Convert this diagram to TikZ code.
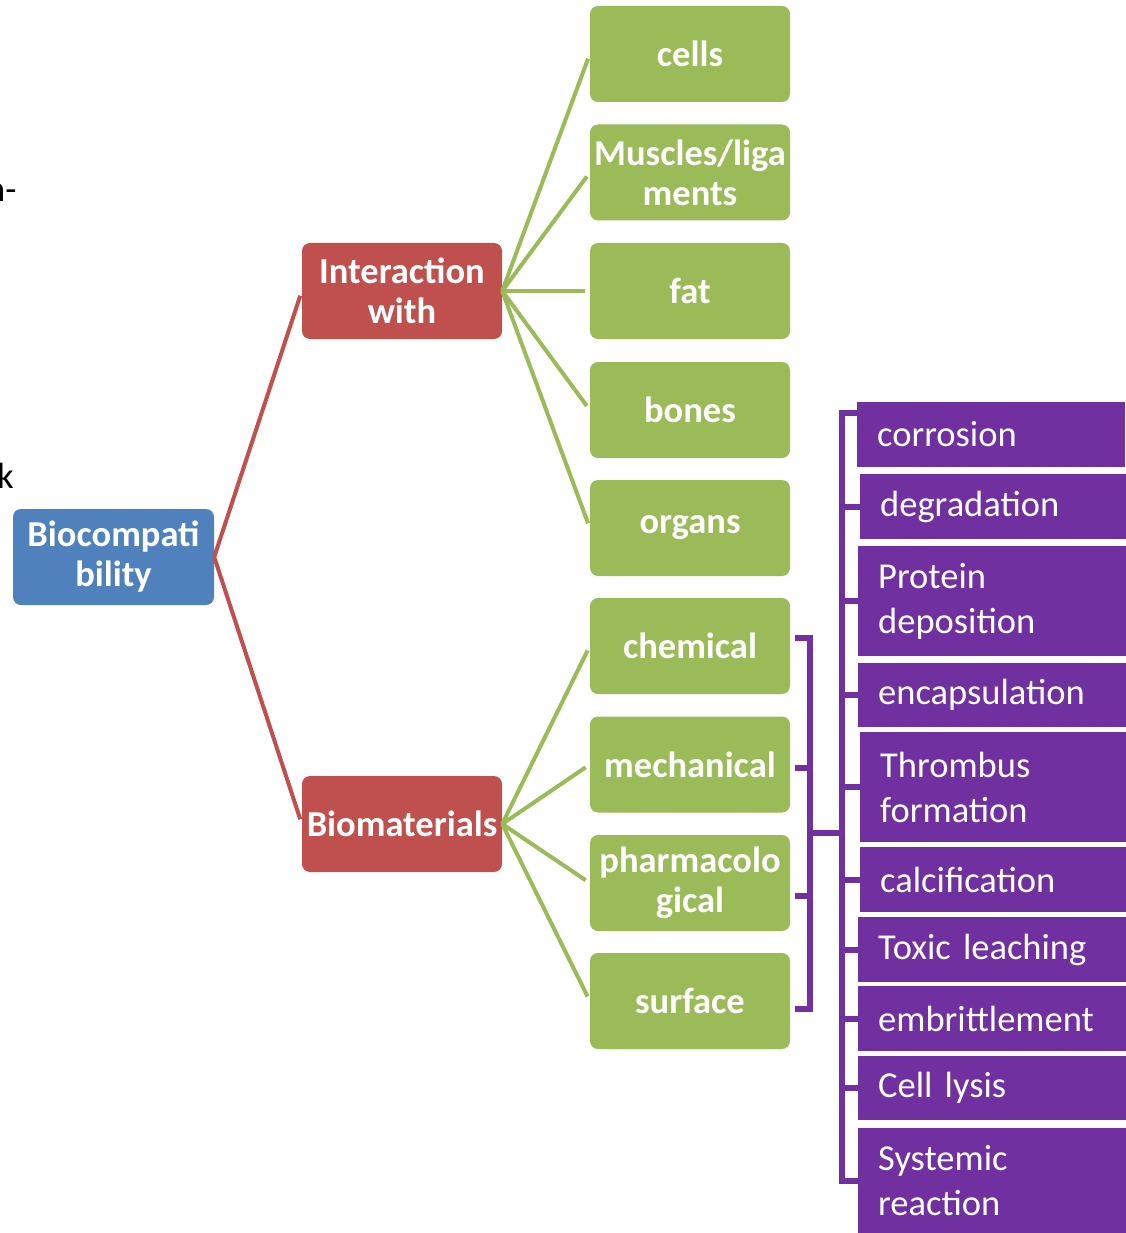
\documentclass[tikz,border=0pt]{standalone}
\usepackage{fontspec}
\setmainfont{Carlito}
\definecolor{bluebox}{HTML}{4F81BD}
\definecolor{redbox}{HTML}{C0504D}
\definecolor{greenbox}{HTML}{9BBB59}
\definecolor{purplebox}{HTML}{7030A0}
\tikzset{
  box/.style={rounded corners=8pt, inner sep=0pt, text=white, align=center,
    font=\fontsize{36.5}{40}\selectfont\bfseries},
  bluenode/.style={box, fill=bluebox, minimum width=201pt, minimum height=96pt},
  rednode/.style={box, fill=redbox, minimum width=200pt, minimum height=96pt},
  greennode/.style={box, fill=greenbox, minimum width=200pt, minimum height=96pt},
  purplenode/.style={fill=purplebox, text=white, anchor=west, inner xsep=20pt, inner ysep=0pt,
    minimum width=268pt, text width=228pt, align=left,
    font=\fontsize{36.5}{45}\selectfont},
  redline/.style={draw=redbox, line width=4pt, shorten >=5pt},
  greenline/.style={draw=greenbox, line width=4pt, shorten >=5pt},
  purpleline/.style={draw=purplebox, line width=6pt},
  bgtext/.style={inner sep=0pt, anchor=base west, font=\fontsize{36.5}{44}\selectfont}
}
\begin{document}
\begin{tikzpicture}[x=1pt,y=-1pt]
\useasboundingbox[fill=white] (0,0) rectangle (1125,1233);

% fragments of background text at the left edge
\node[bgtext] (frag1) at (-14,202) {n-};
\node[bgtext] (frag2) at (-3,488) {k};

% main nodes
\node[bluenode] (bio) at (113.5,557) {Biocompati\\bility};
\node[rednode] (inter) at (402,291) {Interaction\\with};
\node[rednode] (biomat) at (402,824) {Biomaterials};

\node[greennode] (cells) at (690,54) {cells};
\node[greennode] (muscles) at (690,172.5) {Muscles/liga\\ments};
\node[greennode] (fat) at (690,291) {fat};
\node[greennode] (bones) at (690,410) {bones};
\node[greennode] (organs) at (690,528) {organs};
\node[greennode] (chem) at (690,646) {chemical};
\node[greennode] (mech) at (690,764.5) {mechanical};
\node[greennode] (pharm) at (690,883) {pharmacolo\\gical};
\node[greennode] (surf) at (690,1001) {surface};

% purple boxes
\node[purplenode, minimum height=65pt] (p1) at (857,434) {corrosion};
\node[purplenode, minimum height=65pt] (p2) at (860,506.5) {degradation};
\node[purplenode, minimum height=110pt] (p3) at (858,601) {Protein\\deposition};
\node[purplenode, minimum height=64pt] (p4) at (858,695) {encapsulation};
\node[purplenode, minimum height=110pt] (p5) at (860,787) {Thrombus\\formation};
\node[purplenode, minimum height=65pt] (p6) at (860,879.5) {calcification};
\node[purplenode, minimum height=65pt] (p7) at (858,949.5) {Toxic leaching};
\node[purplenode, minimum height=65pt] (p8) at (858,1018.5) {embrittlement};
\node[purplenode, minimum height=64pt] (p9) at (858,1087.5) {Cell lysis};
\node[purplenode, minimum height=105pt] (p10) at (858,1180.5) {Systemic\\reaction};

% red connectors
\draw[redline] (bio.east) -- (inter.west);
\draw[redline] (bio.east) -- (biomat.west);

% green connectors
\foreach \t in {cells,muscles,fat,bones,organs}
  \draw[greenline] (inter.east) -- (\t.west);
\foreach \t in {chem,mech,pharm,surf}
  \draw[greenline] (biomat.east) -- (\t.west);

% purple brackets
\coordinate (hub) at (842,833);
\coordinate (ib) at (810,833);
\begin{scope}[on background layer/.style={}]
\draw[purpleline] (hub) |- ([yshift=21pt]p1.west);
\foreach \p in {p2,p3,p4,p5,p6,p7,p8,p9,p10}
  \draw[purpleline] (hub) |- (\p.west);
\draw[purpleline] (hub) -- (ib);
\draw[purpleline, shorten >=5pt] (ib) |- ([yshift=8pt]chem.east);
\draw[purpleline, shorten >=5pt] (ib) |- ([yshift=-3.5pt]mech.east);
\draw[purpleline, shorten >=5pt] (ib) |- ([yshift=-13pt]pharm.east);
\draw[purpleline, shorten >=5pt] (ib) |- ([yshift=-8pt]surf.east);
\end{scope}
\end{tikzpicture}
\end{document}
